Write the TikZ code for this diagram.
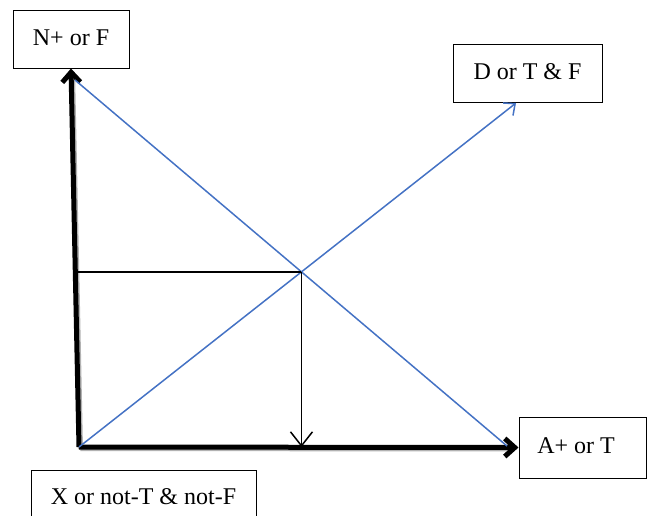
\documentclass[tikz,border=0pt]{standalone}
\usepackage{fontspec}
\setmainfont{Liberation Serif}
\usetikzlibrary{arrows.meta,intersections,calc}
\definecolor{wordblue}{RGB}{68,114,196}
\begin{document}
\begin{tikzpicture}[
    x=1pt, y=-1pt,
    box/.style={draw, line width=1pt, rectangle, inner sep=0pt, font=\fontsize{24}{28}\selectfont},
    axis/.style={line width=5pt, -{Straight Barb[length=10pt,width=18pt]}},
    shade/.style={line width=5pt, gray!60, shorten >=7pt},
    thin/.style={line width=1.5pt},
    every node/.style={anchor=center}
]
\useasboundingbox (0,0) rectangle (647,515);
% boxes
\node[box, minimum width=116pt, minimum height=58pt] (nF) at (71,39) {\raisebox{3pt}{N+ or F}};
\node[box, minimum width=149pt, minimum height=58pt] (dTF) at (527.5,73) {\raisebox{3pt}{D or T \& F}};
\node[box, minimum width=127pt, minimum height=61pt] (aT) at (582.5,447.5) {\hspace{-13pt}\raisebox{3pt}{A+ or T}};
\node[box, minimum width=225pt, minimum height=60pt] (xNot) at (143.5,500) {\raisebox{6pt}{X or not-T \& not-F}};
% corners
\coordinate (O) at (79,447);
\coordinate (topN) at (75,80);
\coordinate (endA) at (507,446);
\coordinate (tipD) at (516,103);
% axes with shadow
\draw[shade] ([shift={(1.5,1.5)}]O) -- ([shift={(1.5,1.5)}]aT.west);
\draw[shade] ([shift={(1.5,1.5)}]O) -- ([shift={(1.5,1.5)}]nF.south);
\draw[axis] (O) -- (aT.west);
\draw[axis] (O) -- (nF.south);
% blue lines
\draw[thin, wordblue, name path=up, -{Straight Barb[length=9pt,width=16pt]}] (O) -- (tipD);
\draw[thin, wordblue, name path=down] (topN) -- (endA);
\path[name intersections={of=up and down, by=cross}];
\draw[thin] (cross) -- (73,0 |- cross);
\draw[thin, -{Straight Barb[length=14pt,width=22pt]}] (cross) -- (cross |- O);
\end{tikzpicture}
\end{document}
